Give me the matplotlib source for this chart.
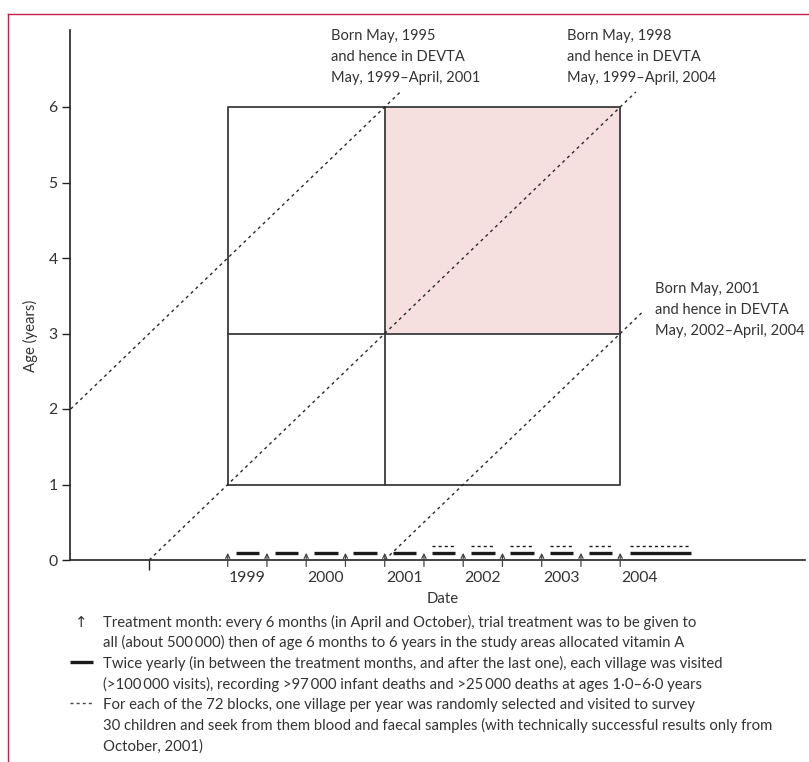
import matplotlib
matplotlib.use("Agg")
import matplotlib.pyplot as plt
from matplotlib.lines import Line2D

# ---------------- data ----------------
STUDY_START = 1999.25   # May 1999 (drawn at treatment month)
STUDY_MID = 2001.25     # May 2001
STUDY_END = 2004.25     # April/May 2004
AGE_LOW, AGE_MID, AGE_HIGH = 1, 3, 6

COHORT_BIRTH = [1995.25, 1998.25, 2001.25]          # born May 1995, 1998, 2001
COHORT_AGE_FROM = [2.0, 0.0, 0.0]
COHORT_AGE_TO = [6.2, 6.2, 3.28]
COHORT_LABELS = [
    ["Born May, 1995", "and hence in DEVTA", "May, 1999\u2013April, 2001"],
    ["Born May, 1998", "and hence in DEVTA", "May, 1999\u2013April, 2004"],
    ["Born May, 2001", "and hence in DEVTA", "May, 2002\u2013April, 2004"],
]

TREATMENT_MONTHS = [1999.25, 1999.75, 2000.25, 2000.75, 2001.25, 2001.75,
                    2002.25, 2002.75, 2003.25, 2003.75, 2004.25]
VISIT_START = [1999.35, 1999.85, 2000.35, 2000.85, 2001.35, 2001.85,
               2002.35, 2002.85, 2003.35, 2003.85, 2004.37]
VISIT_END = [1999.65, 2000.15, 2000.65, 2001.15, 2001.65, 2002.15,
             2002.65, 2003.15, 2003.65, 2004.15, 2005.15]
SURVEY_START = [2001.85, 2002.35, 2002.85, 2003.35, 2003.85, 2004.37]
SURVEY_END = [2002.15, 2002.65, 2003.15, 2003.65, 2004.15, 2005.15]
YEARS = [1999, 2000, 2001, 2002, 2003, 2004]
AGE_TICKS = [0, 1, 2, 3, 4, 5, 6]
BASE_TICK = [1998.25]

LEGEND_TEXT = [
    ["Treatment month: every 6 months (in April and October), trial treatment was to be given to",
     "all (about 500\u2009000) then of age 6 months to 6 years in the study areas allocated vitamin A"],
    ["Twice yearly (in between the treatment months, and after the last one), each village was visited",
     "(>100\u2009000 visits), recording >97\u2009000 infant deaths and >25\u2009000 deaths at ages 1\u00b70\u20136\u00b70 years"],
    ["For each of the 72 blocks, one village per year was randomly selected and visited to survey",
     "30 children and seek from them blood and faecal samples (with technically successful results only from",
     "October, 2001)"],
]

# ---------------- style ----------------
FONT = ['Lato', 'DejaVu Sans']
plt.rcParams['font.family'] = FONT
TXT = '#333333'
FS = 10.7

W, H = 809, 762
fig = plt.figure(figsize=(W / 100, H / 100), dpi=100)

def fx(px):
    return px / W

def fy(py):
    return 1 - py / H

ax = fig.add_axes([fx(70), fy(560), (805 - 70) / W, (560 - 30) / H])
ax.set_xlim(1997.241, 1997.241 + 735 / 78.5)
ax.set_ylim(0, 530 / 75.5)
for s in ['top', 'right']:
    ax.spines[s].set_visible(False)
for s in ['left', 'bottom']:
    ax.spines[s].set_linewidth(1.2)
    ax.spines[s].set_color('#222222')

ax.set_yticks(AGE_TICKS)
ax.set_yticklabels([str(a) for a in AGE_TICKS], fontsize=FS + 0.6, color=TXT)
ax.tick_params(axis='y', direction='out', length=5.5, width=1.0, pad=3.5, color='#222222')
ax.set_xticks(BASE_TICK)
ax.set_xticklabels([''])
ax.tick_params(axis='x', direction='out', length=7.5, width=1.0, color='#222222')
ax.set_ylabel('Age (years)', fontsize=FS, color=TXT)
ax.yaxis.set_label_coords(-(70 - 38) / 735, (560 - 336) / 530)

# shaded region
ax.fill_between([STUDY_MID, STUDY_END], AGE_MID, AGE_HIGH, color='#f5e0df', lw=0, zorder=1)
# box
bc = '#3a3a3a'
blw = 1.3
ax.plot([STUDY_START, STUDY_END, STUDY_END, STUDY_START, STUDY_START],
        [AGE_LOW, AGE_LOW, AGE_HIGH, AGE_HIGH, AGE_LOW], color=bc, lw=blw, zorder=3)
ax.plot([STUDY_START, STUDY_END], [AGE_MID, AGE_MID], color=bc, lw=blw, zorder=3)
ax.plot([STUDY_MID, STUDY_MID], [AGE_LOW, AGE_HIGH], color=bc, lw=blw, zorder=3)

# cohort diagonals
for b, a0, a1 in zip(COHORT_BIRTH, COHORT_AGE_FROM, COHORT_AGE_TO):
    ax.plot([b + a0, b + a1], [a0, a1], color='#2a2a2a', lw=1.0,
            linestyle=(0, (2.2, 2.6)), zorder=4, clip_on=False)

# visits
for s, e in zip(VISIT_START, VISIT_END):
    ax.plot([s, e], [0.098, 0.098], color='#1a1a1a', lw=2.4, solid_capstyle='butt', zorder=5)
# surveys
for s, e in zip(SURVEY_START, SURVEY_END):
    ax.plot([s, e], [0.19, 0.19], color='#1a1a1a', lw=1.0, linestyle=(0, (2.2, 2.2)), zorder=5)
# treatment arrows
for t in TREATMENT_MONTHS:
    ax.annotate('', xy=(t, 0.095), xytext=(t, -0.085), annotation_clip=False,
                arrowprops=dict(arrowstyle='->,head_length=0.3,head_width=0.15',
                                color='#444444', lw=0.9, shrinkA=0, shrinkB=0), zorder=6)

# year labels
for y in YEARS:
    fig.text(fx(70 + (y + 0.5 - 1997.241) * 78.5), fy(581.7), str(y), ha='center',
             va='baseline', fontsize=FS + 0.6, color=TXT)
fig.text(fx(443), fy(603), 'Date', ha='center', va='baseline', fontsize=FS, color=TXT)

# cohort labels
label_pos = [(331, 40), (567, 40), (655, 293.3)]
for (lx, ly), lines in zip(label_pos, COHORT_LABELS):
    for i, line in enumerate(lines):
        fig.text(fx(lx), fy(ly + 21 * i), line, ha='left', va='baseline', fontsize=10.5, color=TXT)

# legend
base = 626.7
step = 20.7
row = 0
fig.text(fx(81.7), fy(base), '\u2191', ha='center', va='baseline', fontsize=FS, color=TXT,
         family=['DejaVu Sans'])
for i, line in enumerate(LEGEND_TEXT[0]):
    fig.text(fx(103), fy(base + step * (row + i)), line, ha='left', va='baseline', fontsize=FS, color=TXT)
row += len(LEGEND_TEXT[0])
fig.add_artist(Line2D([fx(70), fx(92.7)], [fy(base + step * row - 6.5)] * 2, transform=fig.transFigure,
                      color='#1a1a1a', lw=2.4, solid_capstyle='butt'))
for i, line in enumerate(LEGEND_TEXT[1]):
    fig.text(fx(103), fy(base + step * (row + i)), line, ha='left', va='baseline', fontsize=FS, color=TXT)
row += len(LEGEND_TEXT[1])
fig.add_artist(Line2D([fx(70), fx(92.7)], [fy(base + step * row - 6.5)] * 2, transform=fig.transFigure,
                      color='#444444', lw=1.0, linestyle=(0, (2.2, 2.2))))
for i, line in enumerate(LEGEND_TEXT[2]):
    fig.text(fx(103), fy(base + step * (row + i)), line, ha='left', va='baseline', fontsize=FS, color=TXT)

# frame (top and left)
fc = '#c21f4b'
fig.add_artist(Line2D([fx(8), fx(809)], [fy(14), fy(14)], transform=fig.transFigure, color=fc, lw=1.0))
fig.add_artist(Line2D([fx(8), fx(8)], [fy(14), fy(762)], transform=fig.transFigure, color=fc, lw=1.0))

fig.savefig('out.png', dpi=100)
